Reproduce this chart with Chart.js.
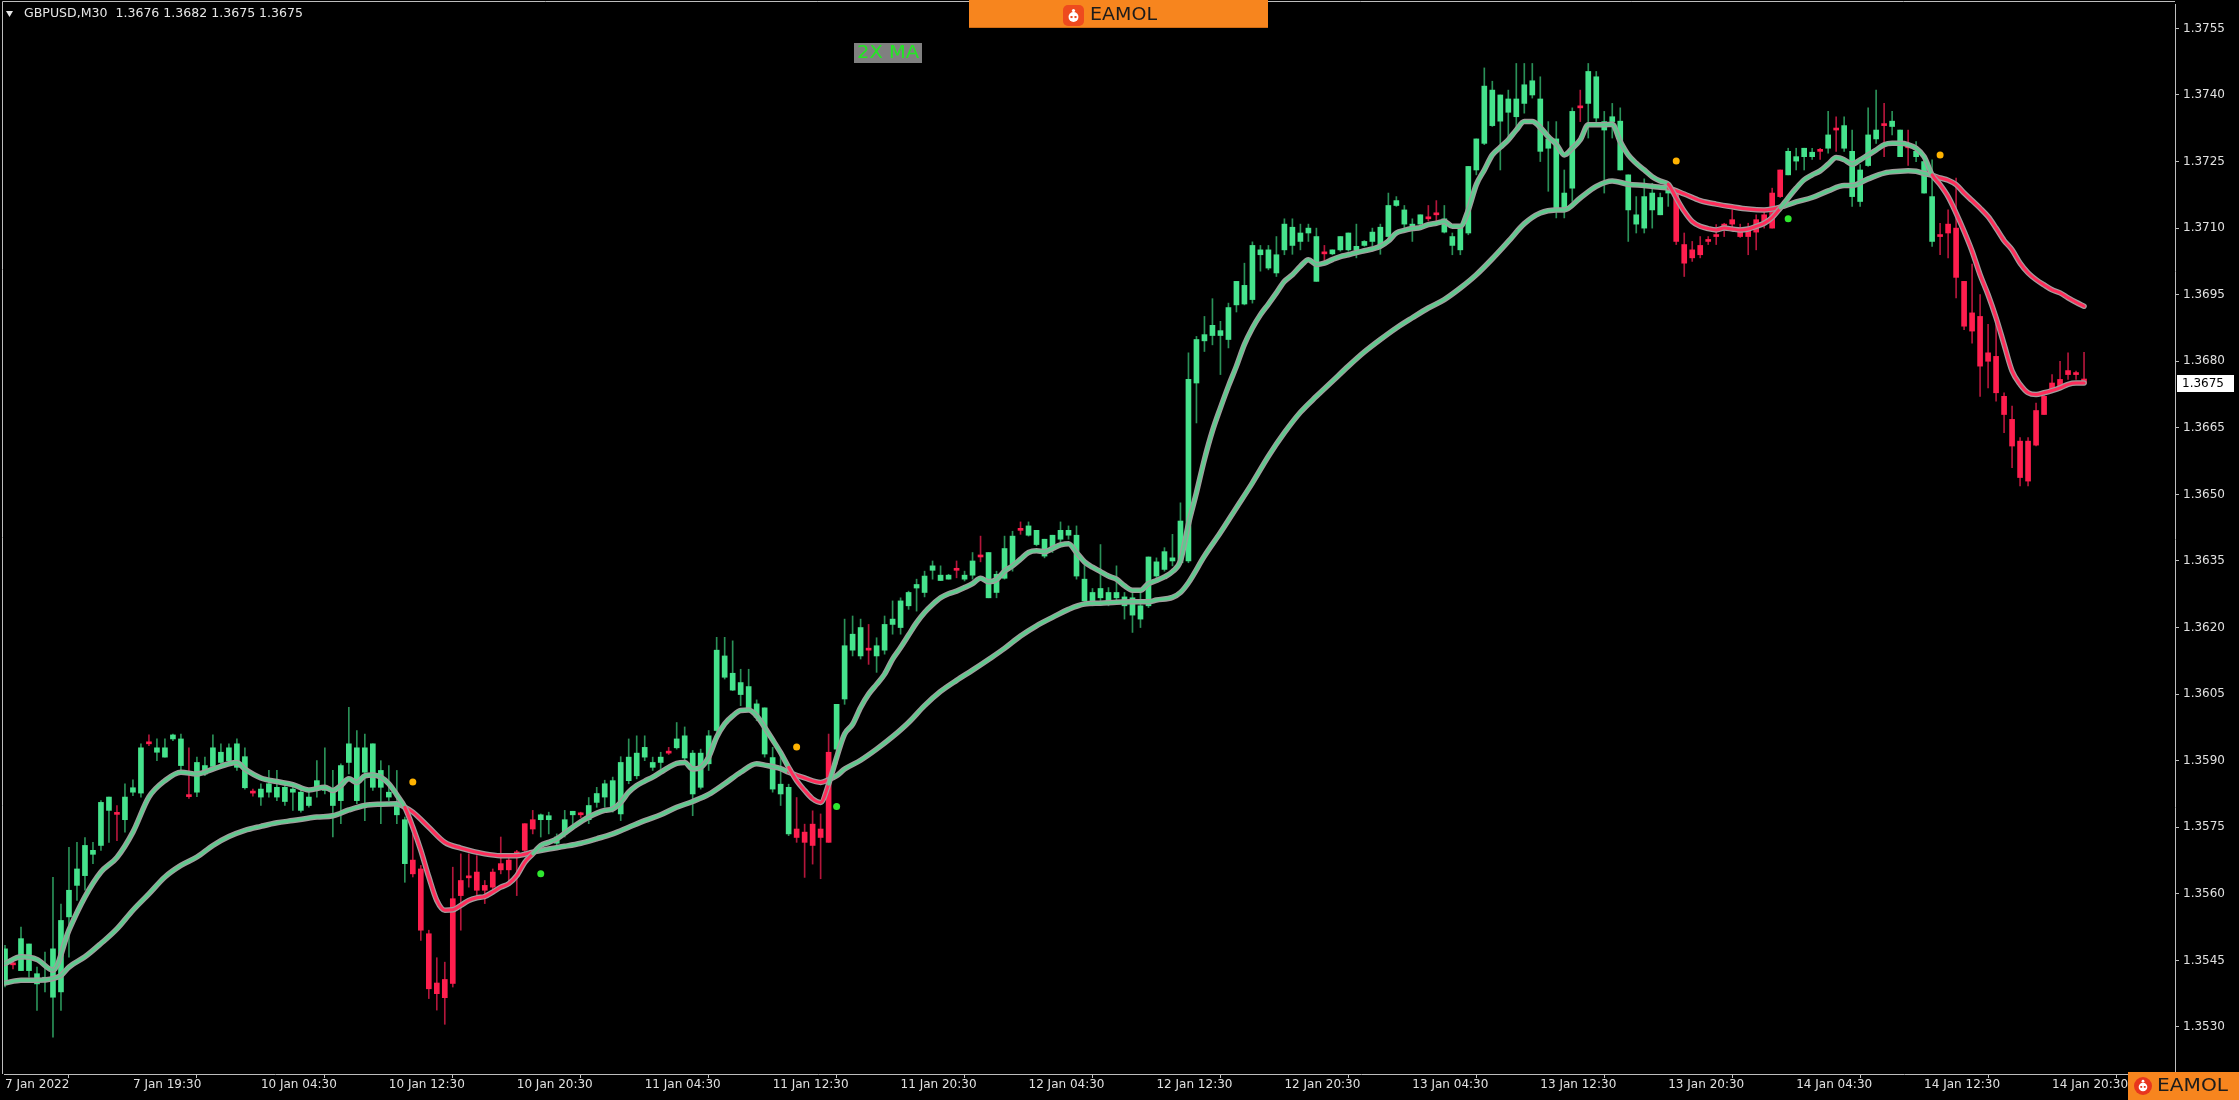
<!DOCTYPE html>
<html>
<head>
<meta charset="utf-8">
<title>GBPUSD,M30 - 2X MA</title>
<script src="https://cdn.jsdelivr.net/npm/chart.js@4.4.1/dist/chart.umd.min.js"></script>
<style>
  html, body { margin: 0; padding: 0; background: #000; }
  #wrap { width: 2239px; height: 1100px; position: relative; }
</style>
</head>
<body>
<div id="wrap"><canvas id="chart" width="2239" height="1100"></canvas></div>
<script>
// bottom axis: one label every 16 bars (M30)
const timeLabels = ['7 Jan 2022', '7 Jan 19:30', '10 Jan 04:30', '10 Jan 12:30', '10 Jan 20:30',
  '11 Jan 04:30', '11 Jan 12:30', '11 Jan 20:30', '12 Jan 04:30', '12 Jan 12:30', '12 Jan 20:30',
  '13 Jan 04:30', '13 Jan 12:30', '13 Jan 20:30', '14 Jan 04:30', '14 Jan 12:30', '14 Jan 20:30'];
const labelStep = 16;

const yTicks = [1.3530, 1.3545, 1.3560, 1.3575, 1.3590, 1.3605, 1.3620, 1.3635,
  1.3650, 1.3665, 1.3680, 1.3695, 1.3710, 1.3725, 1.3740, 1.3755];

// candles, bar 0 .. 260
const openPrices = [
  1.35405, 1.35440, 1.35427, 1.35427, 1.35397, 1.35405, 1.35367, 1.35379, 1.35548, 1.35619,
  1.35641, 1.35689, 1.35709, 1.35788, 1.35779, 1.35767, 1.35829, 1.35827, 1.35938, 1.35919,
  1.35908, 1.35949, 1.35889, 1.35819, 1.35829, 1.35870, 1.35887, 1.35896, 1.35900, 1.35885,
  1.35839, 1.35827, 1.35818, 1.35829, 1.35818, 1.35808, 1.35829, 1.35788, 1.35799, 1.35840,
  1.35833, 1.35799, 1.35810, 1.35896, 1.35810, 1.35874, 1.35840, 1.35840, 1.35818, 1.35778,
  1.35668, 1.35676, 1.35656, 1.35510, 1.35399, 1.35407, 1.35398, 1.35630, 1.35636, 1.35649,
  1.35619, 1.35649, 1.35668, 1.35676, 1.35694, 1.35758, 1.35767, 1.35767, 1.35767, 1.35714,
  1.35735, 1.35778, 1.35778, 1.35767, 1.35806, 1.35818, 1.35795, 1.35780, 1.35855, 1.35866,
  1.35908, 1.35885, 1.35896, 1.35917, 1.35929, 1.35906, 1.35825, 1.35840, 1.35893, 1.35968,
  1.36088, 1.36059, 1.36049, 1.36019, 1.35998, 1.35915, 1.35836, 1.35825, 1.35735, 1.35746,
  1.35739, 1.35757, 1.35746, 1.35716, 1.35926, 1.36039, 1.36149, 1.36136, 1.36149, 1.36136,
  1.36149, 1.36207, 1.36200, 1.36249, 1.36289, 1.36279, 1.36329, 1.36306, 1.36309, 1.36329,
  1.36309, 1.36318, 1.36359, 1.36267, 1.36279, 1.36311, 1.36339, 1.36419, 1.36408, 1.36387,
  1.36361, 1.36380, 1.36399, 1.36408, 1.36316, 1.36260, 1.36260, 1.36267, 1.36260, 1.36267,
  1.36249, 1.36228, 1.36219, 1.36249, 1.36316, 1.36331, 1.36350, 1.36346, 1.36350, 1.36751,
  1.36846, 1.36858, 1.36858, 1.36849, 1.36927, 1.36929, 1.36939, 1.37040, 1.37010, 1.36999,
  1.37051, 1.37061, 1.37070, 1.37089, 1.36980, 1.37042, 1.37042, 1.37051, 1.37051, 1.37051,
  1.37061, 1.37070, 1.37061, 1.37081, 1.37151, 1.37109, 1.37100, 1.37109, 1.37121, 1.37130,
  1.37091, 1.37061, 1.37051, 1.37089, 1.37231, 1.37291, 1.37331, 1.37341, 1.37361, 1.37351,
  1.37381, 1.37400, 1.37273, 1.37280, 1.37145, 1.37145, 1.37190, 1.37371, 1.37381, 1.37348,
  1.37321, 1.37340, 1.37231, 1.37141, 1.37109, 1.37100, 1.37141, 1.37130, 1.37179, 1.37179,
  1.37063, 1.37051, 1.37061, 1.37070, 1.37085, 1.37109, 1.37119, 1.37100, 1.37093, 1.37119,
  1.37130, 1.37100, 1.37171, 1.37220, 1.37251, 1.37261, 1.37261, 1.37273, 1.37280, 1.37321,
  1.37280, 1.37171, 1.37160, 1.37241, 1.37301, 1.37331, 1.37329, 1.37261, 1.37281, 1.37261,
  1.37179, 1.37070, 1.37081, 1.37109, 1.37100, 1.36980, 1.36909, 1.36901, 1.36819, 1.36811,
  1.36721, 1.36669, 1.36620, 1.36620, 1.36611, 1.36680, 1.36736, 1.36744, 1.36770, 1.36770,
  1.36760
];
const highPrices = [
  1.35484, 1.35447, 1.35525, 1.35487, 1.35435, 1.35469, 1.35637, 1.35577, 1.35705, 1.35716,
  1.35727, 1.35716, 1.35810, 1.35818, 1.35799, 1.35848, 1.35857, 1.35938, 1.35958, 1.35949,
  1.35949, 1.35960, 1.35960, 1.35929, 1.35908, 1.35908, 1.35958, 1.35938, 1.35938, 1.35949,
  1.35929, 1.35836, 1.35848, 1.35878, 1.35878, 1.35848, 1.35848, 1.35840, 1.35829, 1.35900,
  1.35929, 1.35878, 1.35893, 1.36020, 1.35968, 1.35960, 1.35938, 1.35900, 1.35889, 1.35878,
  1.35773, 1.35735, 1.35664, 1.35518, 1.35456, 1.35446, 1.35660, 1.35690, 1.35690, 1.35686,
  1.35630, 1.35656, 1.35728, 1.35690, 1.35698, 1.35758, 1.35788, 1.35780, 1.35784, 1.35735,
  1.35788, 1.35786, 1.35784, 1.35817, 1.35840, 1.35856, 1.35863, 1.35909, 1.35949, 1.35956,
  1.35956, 1.35908, 1.35919, 1.35930, 1.35986, 1.35976, 1.35923, 1.35926, 1.35968, 1.36178,
  1.36178, 1.36170, 1.36106, 1.36106, 1.36037, 1.36019, 1.35930, 1.35915, 1.35847, 1.35817,
  1.35757, 1.35787, 1.35780, 1.35960, 1.36027, 1.36219, 1.36226, 1.36219, 1.36207, 1.36177,
  1.36226, 1.36260, 1.36267, 1.36282, 1.36309, 1.36327, 1.36350, 1.36339, 1.36320, 1.36350,
  1.36327, 1.36369, 1.36406, 1.36369, 1.36327, 1.36406, 1.36417, 1.36438, 1.36438, 1.36419,
  1.36399, 1.36408, 1.36438, 1.36429, 1.36429, 1.36342, 1.36288, 1.36387, 1.36290, 1.36339,
  1.36279, 1.36279, 1.36279, 1.36359, 1.36357, 1.36380, 1.36410, 1.36481, 1.36819, 1.36856,
  1.36901, 1.36941, 1.36890, 1.36931, 1.36980, 1.37021, 1.37069, 1.37061, 1.37061, 1.37081,
  1.37121, 1.37121, 1.37109, 1.37109, 1.37100, 1.37061, 1.37051, 1.37081, 1.37089, 1.37109,
  1.37072, 1.37100, 1.37109, 1.37179, 1.37171, 1.37151, 1.37121, 1.37130, 1.37151, 1.37162,
  1.37151, 1.37089, 1.37104, 1.37239, 1.37301, 1.37461, 1.37431, 1.37400, 1.37411, 1.37471,
  1.37471, 1.37471, 1.37441, 1.37340, 1.37340, 1.37231, 1.37371, 1.37411, 1.37471, 1.37453,
  1.37363, 1.37381, 1.37371, 1.37220, 1.37171, 1.37211, 1.37201, 1.37179, 1.37205, 1.37179,
  1.37089, 1.37070, 1.37081, 1.37081, 1.37108, 1.37111, 1.37141, 1.37109, 1.37111, 1.37130,
  1.37145, 1.37190, 1.37231, 1.37280, 1.37280, 1.37280, 1.37280, 1.37280, 1.37363, 1.37351,
  1.37351, 1.37321, 1.37243, 1.37371, 1.37411, 1.37381, 1.37363, 1.37321, 1.37321, 1.37295,
  1.37258, 1.37254, 1.37111, 1.37141, 1.37213, 1.36980, 1.37019, 1.36950, 1.36883, 1.36883,
  1.36729, 1.36699, 1.36628, 1.36628, 1.36706, 1.36729, 1.36770, 1.36800, 1.36819, 1.36778,
  1.36820
];
const lowPrices = [
  1.35390, 1.35431, 1.35427, 1.35412, 1.35337, 1.35379, 1.35277, 1.35337, 1.35457, 1.35585,
  1.35608, 1.35668, 1.35698, 1.35716, 1.35720, 1.35739, 1.35821, 1.35818, 1.35934, 1.35900,
  1.35908, 1.35945, 1.35870, 1.35815, 1.35819, 1.35866, 1.35878, 1.35889, 1.35896, 1.35878,
  1.35836, 1.35820, 1.35799, 1.35818, 1.35810, 1.35799, 1.35788, 1.35784, 1.35795, 1.35818,
  1.35825, 1.35728, 1.35758, 1.35870, 1.35803, 1.35765, 1.35833, 1.35758, 1.35810, 1.35758,
  1.35626, 1.35638, 1.35495, 1.35364, 1.35338, 1.35306, 1.35390, 1.35518, 1.35615, 1.35593,
  1.35578, 1.35608, 1.35645, 1.35630, 1.35596, 1.35694, 1.35735, 1.35728, 1.35735, 1.35710,
  1.35728, 1.35758, 1.35772, 1.35758, 1.35795, 1.35795, 1.35784, 1.35765, 1.35848, 1.35859,
  1.35900, 1.35878, 1.35878, 1.35914, 1.35926, 1.35900, 1.35776, 1.35836, 1.35878, 1.35964,
  1.36084, 1.36058, 1.36024, 1.36016, 1.35990, 1.35908, 1.35829, 1.35799, 1.35731, 1.35716,
  1.35637, 1.35667, 1.35634, 1.35716, 1.35892, 1.36027, 1.36136, 1.36129, 1.36117, 1.36099,
  1.36140, 1.36185, 1.36185, 1.36241, 1.36237, 1.36269, 1.36309, 1.36306, 1.36309, 1.36312,
  1.36305, 1.36309, 1.36348, 1.36267, 1.36267, 1.36309, 1.36327, 1.36410, 1.36406, 1.36384,
  1.36357, 1.36369, 1.36387, 1.36399, 1.36309, 1.36249, 1.36249, 1.36260, 1.36249, 1.36260,
  1.36219, 1.36189, 1.36200, 1.36245, 1.36309, 1.36327, 1.36339, 1.36342, 1.36346, 1.36661,
  1.36822, 1.36837, 1.36770, 1.36830, 1.36911, 1.36927, 1.36931, 1.37003, 1.37006, 1.36991,
  1.37040, 1.37041, 1.37051, 1.37070, 1.36980, 1.37025, 1.37040, 1.37048, 1.37048, 1.37033,
  1.37059, 1.37059, 1.37041, 1.37079, 1.37149, 1.37093, 1.37070, 1.37107, 1.37116, 1.37115,
  1.37089, 1.37040, 1.37040, 1.37085, 1.37220, 1.37288, 1.37329, 1.37231, 1.37295, 1.37329,
  1.37359, 1.37393, 1.37250, 1.37183, 1.37123, 1.37123, 1.37160, 1.37340, 1.37303, 1.37340,
  1.37179, 1.37303, 1.37231, 1.37070, 1.37089, 1.37089, 1.37100, 1.37130, 1.37149, 1.37063,
  1.36991, 1.37025, 1.37033, 1.37063, 1.37063, 1.37081, 1.37100, 1.37079, 1.37040, 1.37051,
  1.37100, 1.37100, 1.37169, 1.37220, 1.37231, 1.37231, 1.37255, 1.37255, 1.37269, 1.37273,
  1.37273, 1.37149, 1.37149, 1.37239, 1.37291, 1.37261, 1.37310, 1.37261, 1.37241, 1.37250,
  1.37179, 1.37059, 1.37040, 1.37033, 1.36943, 1.36871, 1.36841, 1.36721, 1.36740, 1.36710,
  1.36639, 1.36560, 1.36519, 1.36519, 1.36609, 1.36680, 1.36733, 1.36740, 1.36759, 1.36759,
  1.36750
];
const closePrices = [
  1.35476, 1.35440, 1.35499, 1.35487, 1.35420, 1.35412, 1.35476, 1.35540, 1.35608, 1.35656,
  1.35709, 1.35698, 1.35806, 1.35818, 1.35779, 1.35818, 1.35839, 1.35929, 1.35938, 1.35929,
  1.35929, 1.35958, 1.35949, 1.35819, 1.35896, 1.35889, 1.35929, 1.35919, 1.35929, 1.35938,
  1.35909, 1.35827, 1.35836, 1.35848, 1.35840, 1.35840, 1.35836, 1.35829, 1.35818, 1.35855,
  1.35840, 1.35833, 1.35889, 1.35938, 1.35929, 1.35929, 1.35938, 1.35878, 1.35829, 1.35806,
  1.35767, 1.35645, 1.35518, 1.35386, 1.35375, 1.35366, 1.35589, 1.35596, 1.35636, 1.35608,
  1.35608, 1.35615, 1.35654, 1.35654, 1.35690, 1.35698, 1.35746, 1.35778, 1.35776, 1.35728,
  1.35767, 1.35786, 1.35778, 1.35799, 1.35826, 1.35848, 1.35855, 1.35896, 1.35908, 1.35917,
  1.35930, 1.35896, 1.35908, 1.35917, 1.35949, 1.35956, 1.35917, 1.35917, 1.35956, 1.36149,
  1.36136, 1.36097, 1.36076, 1.36067, 1.36028, 1.36019, 1.35907, 1.35847, 1.35840, 1.35727,
  1.35716, 1.35709, 1.35727, 1.35919, 1.36027, 1.36159, 1.36185, 1.36200, 1.36149, 1.36159,
  1.36207, 1.36219, 1.36260, 1.36279, 1.36297, 1.36316, 1.36339, 1.36318, 1.36318, 1.36329,
  1.36318, 1.36350, 1.36359, 1.36369, 1.36320, 1.36378, 1.36406, 1.36419, 1.36429, 1.36419,
  1.36399, 1.36408, 1.36419, 1.36419, 1.36408, 1.36309, 1.36279, 1.36288, 1.36279, 1.36279,
  1.36269, 1.36267, 1.36249, 1.36359, 1.36348, 1.36371, 1.36357, 1.36440, 1.36759, 1.36849,
  1.36860, 1.36881, 1.36869, 1.36921, 1.36980, 1.36971, 1.37061, 1.37051, 1.37051, 1.37040,
  1.37109, 1.37102, 1.37089, 1.37100, 1.37081, 1.37042, 1.37051, 1.37081, 1.37089, 1.37059,
  1.37070, 1.37091, 1.37102, 1.37151, 1.37162, 1.37141, 1.37109, 1.37130, 1.37121, 1.37130,
  1.37121, 1.37081, 1.37100, 1.37239, 1.37301, 1.37420, 1.37411, 1.37400, 1.37391, 1.37391,
  1.37423, 1.37432, 1.37391, 1.37301, 1.37301, 1.37179, 1.37363, 1.37371, 1.37453, 1.37441,
  1.37340, 1.37351, 1.37341, 1.37220, 1.37130, 1.37171, 1.37179, 1.37169, 1.37186, 1.37070,
  1.37021, 1.37033, 1.37040, 1.37070, 1.37081, 1.37100, 1.37109, 1.37081, 1.37081, 1.37091,
  1.37115, 1.37179, 1.37231, 1.37273, 1.37261, 1.37280, 1.37271, 1.37273, 1.37310, 1.37321,
  1.37331, 1.37273, 1.37231, 1.37310, 1.37321, 1.37331, 1.37341, 1.37321, 1.37281, 1.37273,
  1.37250, 1.37171, 1.37081, 1.37089, 1.36989, 1.36879, 1.36868, 1.36789, 1.36800, 1.36729,
  1.36680, 1.36609, 1.36538, 1.36530, 1.36689, 1.36721, 1.36751, 1.36759, 1.36779, 1.36770,
  1.36750
];

// 2X MA indicator: [bar, value]
const fastMA = [
  [0, 1.35443], [2, 1.35458], [4, 1.35452], [6, 1.35428], [8, 1.35518], [10, 1.35593], [12, 1.35649],
  [14, 1.35682], [16, 1.35739], [18, 1.35818], [20, 1.35855], [22, 1.35874], [24, 1.35870], [26, 1.35881],
  [28, 1.35893], [29, 1.35896], [30, 1.35881], [32, 1.35861], [34, 1.35853], [36, 1.35846], [38, 1.35834],
  [40, 1.35840], [41, 1.35833], [42, 1.35844], [43, 1.35859], [44, 1.35851], [45, 1.35866], [46, 1.35868],
  [47, 1.35863], [48, 1.35848], [49, 1.35823], [50, 1.35795], [51, 1.35750], [52, 1.35698], [53, 1.35638],
  [54, 1.35585], [55, 1.35563], [56, 1.35564], [57, 1.35574], [58, 1.35585], [59, 1.35591], [60, 1.35594],
  [61, 1.35604], [62, 1.35615], [63, 1.35623], [64, 1.35641], [65, 1.35671], [66, 1.35690], [67, 1.35709],
  [68, 1.35716], [69, 1.35724], [71, 1.35750], [73, 1.35773], [75, 1.35788], [76, 1.35791], [77, 1.35806],
  [78, 1.35829], [79, 1.35844], [80, 1.35854], [81, 1.35863], [82, 1.35874], [83, 1.35885], [84, 1.35894],
  [85, 1.35896], [86, 1.35881], [87, 1.35885], [88, 1.35908], [89, 1.35953], [90, 1.35983], [91, 1.36001],
  [92, 1.36013], [93, 1.36014], [94, 1.36001], [95, 1.35975], [96, 1.35947], [97, 1.35918], [98, 1.35885],
  [99, 1.35855], [100, 1.35833], [101, 1.35814], [102, 1.35806], [103, 1.35847], [104, 1.35907], [105, 1.35960],
  [106, 1.35982], [107, 1.36020], [108, 1.36050], [109, 1.36072], [110, 1.36095], [111, 1.36129], [112, 1.36155],
  [113, 1.36183], [114, 1.36211], [115, 1.36234], [116, 1.36252], [117, 1.36267], [118, 1.36276], [119, 1.36282],
  [120, 1.36290], [121, 1.36299], [122, 1.36311], [123, 1.36303], [124, 1.36308], [125, 1.36327], [126, 1.36339],
  [127, 1.36354], [128, 1.36369], [129, 1.36373], [130, 1.36371], [131, 1.36378], [132, 1.36386], [133, 1.36389],
  [134, 1.36369], [135, 1.36348], [136, 1.36336], [137, 1.36326], [138, 1.36316], [139, 1.36309], [140, 1.36294],
  [141, 1.36284], [142, 1.36284], [143, 1.36299], [144, 1.36306], [145, 1.36314], [146, 1.36326], [147, 1.36350],
  [148, 1.36433], [149, 1.36504], [150, 1.36579], [151, 1.36643], [152, 1.36695], [153, 1.36744], [154, 1.36789],
  [155, 1.36838], [156, 1.36875], [157, 1.36905], [158, 1.36929], [159, 1.36954], [160, 1.36980], [161, 1.36995],
  [162, 1.37014], [163, 1.37029], [164, 1.37018], [165, 1.37021], [166, 1.37029], [167, 1.37036], [168, 1.37040],
  [169, 1.37045], [170, 1.37049], [171, 1.37053], [172, 1.37059], [173, 1.37071], [174, 1.37089], [175, 1.37095],
  [176, 1.37099], [177, 1.37101], [178, 1.37108], [179, 1.37111], [180, 1.37115], [181, 1.37104], [182, 1.37104],
  [183, 1.37141], [184, 1.37198], [185, 1.37231], [186, 1.37265], [187, 1.37282], [188, 1.37299], [189, 1.37321],
  [190, 1.37340], [191, 1.37340], [192, 1.37327], [193, 1.37306], [194, 1.37289], [195, 1.37265], [196, 1.37280],
  [197, 1.37299], [198, 1.37333], [199, 1.37333], [200, 1.37333], [201, 1.37334], [202, 1.37295], [203, 1.37265],
  [204, 1.37246], [205, 1.37231], [206, 1.37216], [207, 1.37206], [208, 1.37199], [209, 1.37168], [210, 1.37138],
  [211, 1.37115], [212, 1.37104], [213, 1.37099], [214, 1.37096], [215, 1.37100], [216, 1.37098], [217, 1.37096],
  [218, 1.37098], [219, 1.37104], [220, 1.37111], [221, 1.37124], [222, 1.37145], [223, 1.37168], [224, 1.37190],
  [225, 1.37209], [226, 1.37220], [227, 1.37229], [228, 1.37244], [229, 1.37259], [230, 1.37254], [231, 1.37244],
  [232, 1.37254], [233, 1.37265], [234, 1.37276], [235, 1.37288], [236, 1.37291], [237, 1.37291], [238, 1.37288],
  [239, 1.37280], [240, 1.37261], [241, 1.37220], [242, 1.37198], [243, 1.37171], [244, 1.37134], [245, 1.37093],
  [246, 1.37048], [247, 1.36995], [248, 1.36950], [249, 1.36898], [250, 1.36838], [251, 1.36778], [252, 1.36748],
  [253, 1.36729], [254, 1.36725], [255, 1.36729], [256, 1.36734], [257, 1.36740], [258, 1.36748], [259, 1.36751],
  [260, 1.36751]
];
const slowMA = [
  [0, 1.35399], [2, 1.35405], [4, 1.35405], [6, 1.35409], [7, 1.35416], [8, 1.35435], [10, 1.35458],
  [12, 1.35488], [14, 1.35521], [16, 1.35563], [18, 1.35600], [20, 1.35638], [22, 1.35664], [24, 1.35683],
  [26, 1.35709], [28, 1.35729], [30, 1.35743], [32, 1.35752], [34, 1.35760], [36, 1.35765], [39, 1.35773],
  [41, 1.35776], [43, 1.35789], [45, 1.35799], [47, 1.35802], [49, 1.35803], [50, 1.35795], [51, 1.35784],
  [53, 1.35750], [55, 1.35716], [57, 1.35703], [60, 1.35690], [62, 1.35686], [64, 1.35686], [66, 1.35694],
  [68, 1.35701], [70, 1.35707], [72, 1.35714], [74, 1.35724], [76, 1.35735], [78, 1.35750], [80, 1.35765],
  [82, 1.35778], [84, 1.35795], [86, 1.35808], [88, 1.35824], [90, 1.35848], [92, 1.35874], [94, 1.35893],
  [95, 1.35890], [97, 1.35882], [98, 1.35874], [100, 1.35861], [102, 1.35851], [103, 1.35857], [104, 1.35866],
  [105, 1.35881], [107, 1.35901], [109, 1.35926], [111, 1.35954], [113, 1.35986], [115, 1.36024], [117, 1.36056],
  [119, 1.36081], [121, 1.36104], [123, 1.36128], [125, 1.36153], [127, 1.36181], [129, 1.36204], [131, 1.36223],
  [133, 1.36241], [135, 1.36253], [137, 1.36255], [139, 1.36257], [141, 1.36258], [143, 1.36258], [144, 1.36262],
  [146, 1.36268], [147, 1.36279], [148, 1.36301], [150, 1.36361], [152, 1.36414], [154, 1.36470], [156, 1.36526],
  [158, 1.36586], [160, 1.36639], [162, 1.36685], [164, 1.36721], [166, 1.36755], [168, 1.36789], [170, 1.36821],
  [172, 1.36849], [174, 1.36875], [176, 1.36898], [178, 1.36920], [180, 1.36939], [182, 1.36965], [184, 1.36995],
  [186, 1.37031], [188, 1.37070], [190, 1.37110], [192, 1.37134], [194, 1.37141], [195, 1.37141], [197, 1.37168],
  [199, 1.37194], [201, 1.37206], [203, 1.37199], [205, 1.37196], [207, 1.37192], [208, 1.37190], [210, 1.37177],
  [212, 1.37162], [214, 1.37154], [216, 1.37148], [218, 1.37143], [220, 1.37141], [222, 1.37147], [224, 1.37159],
  [226, 1.37169], [228, 1.37184], [230, 1.37196], [231, 1.37196], [233, 1.37211], [235, 1.37224], [237, 1.37228],
  [238, 1.37229], [239, 1.37228], [240, 1.37223], [241, 1.37219], [242, 1.37213], [243, 1.37208], [244, 1.37198],
  [245, 1.37179], [246, 1.37162], [247, 1.37145], [248, 1.37126], [249, 1.37100], [250, 1.37072], [251, 1.37051],
  [252, 1.37021], [253, 1.36999], [254, 1.36984], [255, 1.36972], [256, 1.36961], [257, 1.36954], [258, 1.36943],
  [259, 1.36933], [260, 1.36924]
];

// bars painted as down trend (fast MA under slow MA)
const bearZones = [[51, 66], [99, 103], [209, 222], [242, 260]];
// crossing signals: [bar, price]
const sellSignals = [[51, 1.35852], [99, 1.35931], [209, 1.37251], [242, 1.37265]];
const buySignals = [[67, 1.35645], [104, 1.35797], [223, 1.37121]];

const GREEN = '#45e38c', GREEN_WICK = '#2a9158';
const RED = '#ff1e4e', RED_WICK = '#b3163b';
const MA_GREEN = '#5fcb8f', MA_RED = '#ff2c5a', MA_EDGE = '#a39c9d';

const inZone = i => bearZones.some(z => i >= z[0] && i <= z[1]);
const isBear = i => inZone(i) || openPrices[i] === closePrices[i];
const redSegment = ctx => bearZones.some(z => ctx.p0.parsed.x >= z[0] - 1 && ctx.p1.parsed.x <= z[1]);

const bodyData = openPrices.map((o, i) => ({ x: i, y: [o, closePrices[i]] }));
const wickData = highPrices.map((h, i) => ({ x: i, y: [lowPrices[i], h] }));
const toXY = arr => arr.map(p => ({ x: p[0], y: p[1] }));

function maLine(points, width, colored, order) {
  return {
    type: 'line',
    data: toXY(points),
    borderWidth: width,
    borderColor: colored ? MA_GREEN : MA_EDGE,
    segment: colored ? { borderColor: ctx => redSegment(ctx) ? MA_RED : MA_GREEN } : undefined,
    pointRadius: 0,
    cubicInterpolationMode: 'monotone',
    borderCapStyle: 'round',
    borderJoinStyle: 'round',
    order: order
  };
}

// overlays: background, frame, header, labels and logos
function fitText(c, text, x, y, w, font, color) {
  c.font = font;
  c.fillStyle = color;
  c.textAlign = 'left';
  c.textBaseline = 'middle';
  const m = c.measureText(text).width;
  c.save();
  c.translate(x, y);
  c.scale(w / m, 1);
  c.fillText(text, 0, 0);
  c.restore();
}

function robot(c, cx, cy, r, bg) {
  c.fillStyle = '#ffffff';
  c.beginPath(); c.arc(cx, cy + 1.5, r * 0.62, 0, Math.PI * 2); c.fill();
  c.beginPath(); c.arc(cx, cy - r * 0.62, r * 0.2, 0, Math.PI * 2); c.fill();
  c.fillStyle = bg;
  c.fillRect(cx - r * 0.38, cy + 0.5, r * 0.26, r * 0.26);
  c.fillRect(cx + r * 0.12, cy + 0.5, r * 0.26, r * 0.26);
}

const overlay = {
  id: 'overlay',
  beforeDraw(chart) {
    const c = chart.ctx;
    c.save();
    c.fillStyle = '#000000';
    c.fillRect(0, 0, chart.width, chart.height);
    c.restore();
  },
  afterDraw(chart) {
    const c = chart.ctx;
    const a = chart.chartArea;
    const ys = chart.scales.y;
    const last = closePrices.length - 1;
    c.save();

    // frame top and left
    c.strokeStyle = '#bdbdbd';
    c.lineWidth = 1;
    c.beginPath();
    c.moveTo(2.5, a.bottom);
    c.lineTo(2.5, 1.5);
    c.lineTo(a.right, 1.5);
    c.stroke();

    // header
    c.fillStyle = '#e6e6e6';
    c.beginPath(); c.moveTo(6, 11); c.lineTo(13, 11); c.lineTo(9.5, 17); c.closePath(); c.fill();
    const quote = 'GBPUSD,M30  ' + [openPrices[last], highPrices[last], lowPrices[last], closePrices[last]]
      .map(v => v.toFixed(4)).join(' ');
    fitText(c, quote, 24, 14, 279, '12px "DejaVu Sans"', '#e6e6e6');

    // indicator name
    c.fillStyle = '#808080';
    c.fillRect(854, 43, 68, 20);
    fitText(c, '2X MA', 857, 53.5, 62, '18px "DejaVu Sans"', '#22e822');

    // top logo
    c.fillStyle = '#f7851e';
    c.fillRect(969, 0, 299, 28);
    c.fillStyle = '#cf6c14';
    c.fillRect(969, 27, 299, 1);
    c.fillStyle = '#ee4a1e';
    c.beginPath(); c.roundRect(1063, 5, 21, 21, 5); c.fill();
    robot(c, 1073.5, 15.5, 8, '#ee4a1e');
    fitText(c, 'EAMOL', 1090, 15.5, 67, '17px "DejaVu Sans"', '#1c1c1c');

    // bottom right logo
    c.fillStyle = '#f7851e';
    c.fillRect(2128, 1072, 111, 28);
    c.fillStyle = '#e8351e';
    c.beginPath(); c.arc(2143, 1086, 9, 0, Math.PI * 2); c.fill();
    robot(c, 2143, 1085.5, 7, '#e8351e');
    fitText(c, 'EAMOL', 2157, 1087, 71, '17px "DejaVu Sans"', '#1c1c1c');

    // current price label
    const py = Math.round(ys.getPixelForValue(closePrices[last]));
    c.fillStyle = '#ffffff';
    c.fillRect(a.right + 2, py - 8, 57, 17);
    c.fillStyle = '#000000';
    c.font = '12px "DejaVu Sans"';
    c.textAlign = 'left';
    c.textBaseline = 'middle';
    c.fillText(closePrices[last].toFixed(4), a.right + 7, py + 0.5);
    c.restore();
  }
};

const axisFont = { family: 'DejaVu Sans', size: 12 };

new Chart(document.getElementById('chart'), {
  type: 'bar',
  data: {
    datasets: [
      {
        type: 'line', data: toXY(sellSignals), showLine: false,
        pointRadius: 3.5, pointBorderWidth: 0, pointBackgroundColor: '#ffb300', order: 0
      },
      {
        type: 'line', data: toXY(buySignals), showLine: false,
        pointRadius: 3.5, pointBorderWidth: 0, pointBackgroundColor: '#2fe82f', order: 0
      },
      maLine(fastMA, 3, true, 1),
      maLine(fastMA, 5.5, false, 2),
      maLine(slowMA, 3, true, 3),
      maLine(slowMA, 5.5, false, 4),
      {
        type: 'bar', data: bodyData, grouped: false, barThickness: 5, minBarLength: 2,
        backgroundColor: ctx => isBear(ctx.dataIndex) ? RED : GREEN, order: 5
      },
      {
        type: 'bar', data: wickData, grouped: false, barThickness: 1,
        backgroundColor: ctx => isBear(ctx.dataIndex) ? RED_WICK : GREEN_WICK, order: 6
      }
    ]
  },
  options: {
    responsive: false,
    animation: false,
    devicePixelRatio: 1,
    layout: { padding: { left: 3, top: 2, right: 0, bottom: 0 } },
    plugins: { legend: { display: false }, tooltip: { enabled: false } },
    scales: {
      x: {
        type: 'linear',
        min: -0.125,
        max: 271.375,
        offset: false,
        afterBuildTicks: s => { s.ticks = timeLabels.map((t, k) => ({ value: k * labelStep })); },
        afterFit: s => { s.height = 26; s.paddingLeft = 0; s.paddingRight = 0; },
        grid: { drawOnChartArea: false, tickLength: 4, color: '#bdbdbd' },
        border: { color: '#bdbdbd' },
        ticks: {
          color: '#e0e0e0', font: axisFont, padding: 0, align: 'start',
          maxRotation: 0, autoSkip: false,
          callback: v => timeLabels[Math.round(v / labelStep)]
        }
      },
      y: {
        type: 'linear',
        position: 'right',
        min: 1.35194,
        max: 1.37605,
        afterBuildTicks: s => { s.ticks = yTicks.map(v => ({ value: v })); },
        afterFit: s => { s.width = 64; s.paddingTop = 0; s.paddingBottom = 0; },
        grid: { drawOnChartArea: false, tickLength: 4, color: '#bdbdbd' },
        border: { color: '#bdbdbd' },
        ticks: { color: '#e0e0e0', font: axisFont, padding: 4, callback: v => v.toFixed(4) }
      }
    }
  },
  plugins: [overlay]
});
</script>
</body>
</html>
